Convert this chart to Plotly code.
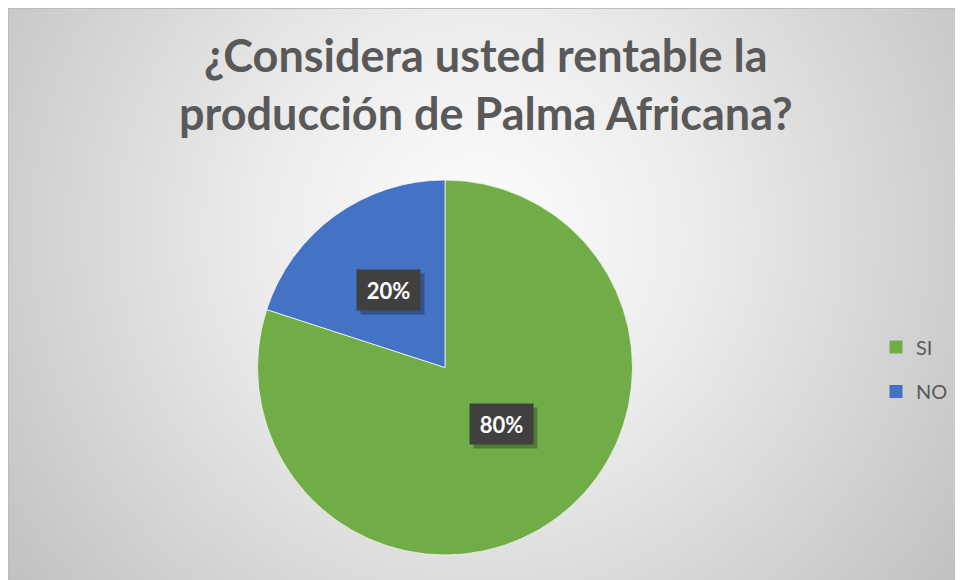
import base64
import math
import plotly.graph_objects as go

# ---- data ----
labels = ["SI", "NO"]
values = [80, 20]
colors = ["#70AD47", "#4472C4"]
title_lines = ["¿Considera usted rentable la", "producción de Palma Africana?"]

W, H = 963, 580
FONT = "Lato"

# pie placement (figure pixels)
pie_x0, pie_x1 = 249, 625
pie_y0, pie_y1 = 172, 547
cx = (pie_x0 + pie_x1) / 2
cy = (pie_y0 + pie_y1) / 2
r = min(pie_x1 - pie_x0, pie_y1 - pie_y0) / 2

# background: radial gradient as an inline SVG image
svg = f"""<svg xmlns='http://www.w3.org/2000/svg' width='{W}' height='{H}' viewBox='0 0 {W} {H}'>
<defs><radialGradient id='g' gradientUnits='userSpaceOnUse' cx='472' cy='223' r='620'>
<stop offset='0' stop-color='#fdfdfd'/><stop offset='0.35' stop-color='#ececec'/>
<stop offset='1' stop-color='#bdbdbd'/></radialGradient></defs>
<rect x='0' y='0' width='{W}' height='{H}' fill='url(#g)'/>
<path d='M0.5 {H} L0.5 0.5 L{W} 0.5' fill='none' stroke='#bcbcbc' stroke-width='1'/>
</svg>"""
src = "data:image/svg+xml;base64," + base64.b64encode(svg.encode()).decode()

fig = go.Figure()

fig.add_trace(go.Pie(
    labels=labels, values=values, sort=False, direction="clockwise", rotation=0,
    marker=dict(colors=colors, line=dict(color="rgba(255,255,255,0.7)", width=1)),
    textinfo="none", hoverinfo="label+percent", showlegend=False,
    domain=dict(x=[pie_x0 / W, pie_x1 / W], y=[1 - pie_y1 / H, 1 - pie_y0 / H]),
))

# legend entries
for lab, col in zip(labels, colors):
    fig.add_trace(go.Scatter(
        x=[None], y=[None], mode="markers", name=lab, legendgroup=lab,
        marker=dict(symbol="square", size=13, color=col),
    ))

annotations = []
# title lines
for txt, ym in zip(title_lines, [47.5, 104.5]):
    annotations.append(dict(
        text=txt, x=478 / W, y=1 - ym / H, xref="paper", yref="paper",
        xanchor="center", yanchor="middle", showarrow=False,
        font=dict(family=FONT, size=45, color="#595959", weight="bold"),
    ))

# percentage labels positioned from data
total = sum(values)
cum = 0
for v in values:
    mid = (cum + v / 2) / total
    cum += v
    th = 2 * math.pi * mid
    px = cx + 0.51 * r * math.sin(th)
    py = cy - 0.51 * r * math.cos(th)
    txt = f"{round(100 * v / total)}%"
    # shadow box
    annotations.append(dict(
        text=" ", x=px / W, y=1 - py / H, xref="paper", yref="paper",
        showarrow=False, xshift=4, yshift=-4, width=55, height=32, borderpad=4,
        bgcolor="rgba(0,0,0,0.28)", font=dict(family=FONT, size=22, color="rgba(0,0,0,0)"),
    ))
    annotations.append(dict(
        text=txt, x=px / W, y=1 - py / H, xref="paper", yref="paper",
        showarrow=False, width=55, height=32, borderpad=4,
        bgcolor="#404040", font=dict(family=FONT, size=22, color="white", weight="bold"),
    ))

fig.update_layout(
    width=W, height=H,
    margin=dict(l=0, r=0, t=0, b=0),
    paper_bgcolor="white", plot_bgcolor="rgba(0,0,0,0)",
    xaxis=dict(visible=False), yaxis=dict(visible=False),
    images=[dict(source=src, xref="paper", yref="paper", x=0, y=1,
                 sizex=1, sizey=1, xanchor="left", yanchor="top",
                 sizing="stretch", layer="below")],
    legend=dict(x=868 / W, y=1 - 319.5 / H, xanchor="left", yanchor="top",
                bgcolor="rgba(0,0,0,0)", tracegroupgap=15.5, traceorder="grouped",
                font=dict(family=FONT, size=20, color="#595959"), itemwidth=30),
    annotations=annotations,
    hovermode=False,
)

fig.write_html("out.html")
